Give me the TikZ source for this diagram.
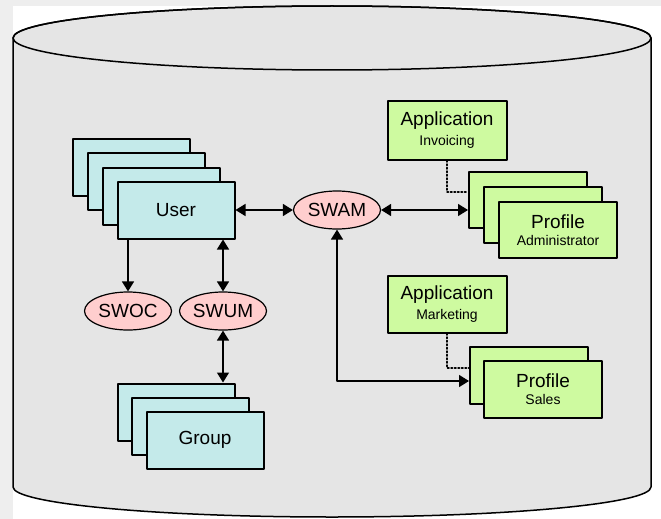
\documentclass[tikz,border=0pt]{standalone}
\usepackage{fontspec}
\setmainfont{Liberation Sans}
\usetikzlibrary{arrows.meta,shapes.geometric}
\definecolor{pagegray}{RGB}{238,238,238}
\definecolor{cylgray}{RGB}{229,229,229}
\definecolor{boxcyan}{RGB}{196,234,234}
\definecolor{boxgreen}{RGB}{206,250,160}
\definecolor{swpink}{RGB}{255,206,206}
\newcommand{\bigtxt}{\fontsize{19}{21}\selectfont}
\newcommand{\smalltxt}{\fontsize{14}{15}\selectfont}
\begin{document}
\begin{tikzpicture}[x=1pt,y=-1pt,line cap=round,line join=round,>={Triangle[length=10pt,width=12pt]},
	cbox/.style={draw,line width=2pt,fill=boxcyan,minimum width=117pt,minimum height=57pt,inner sep=0pt,font=\bigtxt},
	gbox/.style={draw,line width=2pt,fill=boxgreen,minimum width=118pt,minimum height=56pt,inner sep=0pt,align=center},
	sw/.style={draw,line width=1.2pt,fill=swpink,ellipse,minimum width=87pt,minimum height=38pt,inner sep=0pt,font=\bigtxt},
	link/.style={line width=1.5pt}]
	% page and cylinder
	\fill[pagegray] (0,0) rectangle (661,519);
	\fill[white] (13,6) rectangle (661,519);
	\draw[line width=1.5pt,fill=cylgray] (13,38) -- (13,487) arc[start angle=180,end angle=0,x radius=319,y radius=30] -- (651,38) arc[start angle=0,end angle=-180,x radius=319,y radius=32] -- cycle;
	\draw[line width=1.5pt] (332,38) ellipse[x radius=319,y radius=32];
	% user stack
	\node[cbox] (user4) at (131,167) {};
	\node[cbox] (user3) at (146,181) {};
	\node[cbox] (user2) at (161,196) {};
	\node[cbox] (user) at (176,210) {User};
	% group stack
	\node[cbox] (grp3) at (176,412) {};
	\node[cbox] (grp2) at (190,426) {};
	\node[cbox] (group) at (205,440) {Group};
	% applications and profiles
	\node[gbox,minimum width=119pt,minimum height=59pt] (invoicing) at (447,130) {{\bigtxt Application}\\[5pt]{\smalltxt Invoicing}};
	\node[gbox,minimum width=119pt,minimum height=57pt] (marketing) at (447,304) {{\bigtxt Application}\\[5pt]{\smalltxt Marketing}};
	\node[gbox] (adm3) at (528,200) {};
	\node[gbox] (adm2) at (543,215) {};
	\node[gbox] (admin) at (558,230) {{\bigtxt Profile}\\[5pt]{\smalltxt Administrator}};
	\node[gbox,minimum height=57pt] (sales2) at (529,375) {};
	\node[gbox,minimum height=57pt] (sales) at (543,389) {{\bigtxt Profile}\\[5pt]{\smalltxt Sales}};
	\draw[dotted,line width=1.5pt] (invoicing.south) |- ([yshift=8pt]adm3.west);
	\draw[dotted,line width=1.5pt] (marketing.south) |- ([yshift=7pt]sales2.west);
	% services
	\node[sw] (swam) at (337,210) {SWAM};
	\node[sw] (swoc) at (128,311) {SWOC};
	\node[sw] (swum) at (223,311) {SWUM};
	% links
	\draw[link,<->] (user.east) -- (user.east -| swam.west);
	\draw[link,<->] (swam.east) -- (swam.east -| adm3.west);
	\draw[link,->] (user.south -| swoc.north) -- (swoc.north);
	\draw[link,<->] (user.south -| swum.north) -- (swum.north);
	\draw[link,<->] (swum.south) -- (swum.south |- grp3.north);
	\draw[link,<->] (swam.south) |- ([yshift=-6pt]sales2.west);
\end{tikzpicture}
\end{document}
